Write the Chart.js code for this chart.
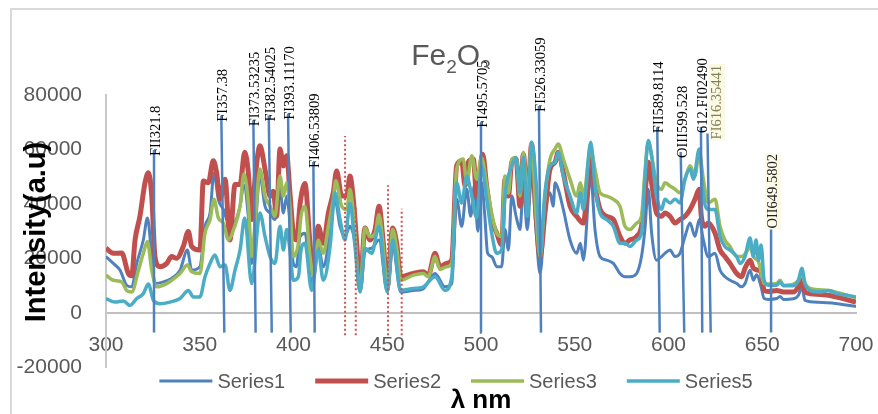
<!DOCTYPE html>
<html>
<head>
<meta charset="utf-8">
<script src="https://cdn.jsdelivr.net/npm/chart.js@4.4.1/dist/chart.umd.min.js"></script>
<style>
  html, body { margin: 0; padding: 0; background: #fff; overflow: hidden; }
  #frame { position: absolute; left: 10px; top: 8px; width: 900px; height: 430px; border: 2px solid #d9d9d9; }
  #wrap { position: absolute; left: 0; top: 0; width: 878px; height: 414px; }
</style>
</head>
<body>
<div id="frame"></div>
<div id="wrap"><canvas id="chart"></canvas></div>
<script>
// Series1
const wl1 = [300,303.9,307.5,311,313.7,316.4,319.9,322.1,324.4,326.1,330.6,335,339.5,343.4,345.7,350.1,352.8,355.5,357.6,359.9,362.6,365.3,368,371.5,373.5,375.9,377.7,379.5,382.1,384.8,387.5,390.1,392.8,394.6,396.4,398.1,399.9,401.5,403.5,406.1,409.7,413.2,415.9,419.5,422.1,424.8,427.5,430.1,432.8,435.5,438.1,441.7,445.6,450,452.9,457.2,463.9,469,475.5,480.8,484.4,487,489.7,492.4,494.5,496.5,498.3,500.3,502,503.5,505.7,508.4,511,512.8,514.6,516.4,518.7,520.8,522.6,524.7,527,529.3,531.5,534.1,536.8,538.5,539.5,541.2,543.9,547.5,551,553,554.6,558.5,560.8,563.5,567,570.6,574.1,576.8,579.4,583,585.6,587.4,589.2,591,593.6,596.3,598.1,600.8,603.5,606.1,608.8,611.5,614.1,616.4,618.6,621.2,624.8,627.5,630.1,632.8,636.4,639,640.8,643.5,645.3,647,649.4,651,653.3,657.7,659.5,661.3,666.6,669.3,671.1,672.8,680,690,700];
const s1 = [20700,18200,15700,10200,9600,18200,26800,34900,20700,10800,11400,12700,15700,23100,15700,17000,31800,36700,51500,41700,38000,33000,33100,39200,47000,35500,18200,30000,50300,39200,36700,34300,45400,36700,42900,33000,18200,17000,28000,29300,10800,24400,17000,29300,41700,31800,28100,31800,25600,8000,22500,23800,26800,8000,24400,7700,8300,8800,14500,9600,10800,41700,31800,45400,35500,47000,30000,48000,36000,22000,20700,17000,17000,30600,23100,42900,35500,30600,46600,30600,51500,30600,14500,35500,44100,39200,47800,45400,38000,26800,21900,25600,19400,50300,30600,20700,19400,18200,14500,13300,13300,14500,20700,30600,45400,29300,19400,20700,21900,23100,20700,21900,28100,33000,28100,34300,26800,20700,21900,15700,13300,12000,10800,9600,10800,15700,12000,14000,9600,5300,5000,5300,6100,5000,5200,6500,9600,4600,3900,3400,2400];

// Series2
const wl2 = [300,303.9,308.4,311.9,313.7,315.5,318.1,320.8,322.6,324.4,326.1,328.8,332.4,335,337.7,341.2,343.9,345.7,350.1,351.9,354.6,357.2,359,360.8,363.5,366.1,368.8,371.5,374,375.9,377.7,379.5,382.1,384.8,387.5,389.2,391,392.8,394.6,396.4,398.1,399.9,401.7,403.5,406.1,408.8,410.6,413.2,415.9,418.6,421.2,423,425.7,428.4,430.1,431.9,433.7,435.5,438.1,440.8,443.5,445.6,447.9,450,452.9,455,457.2,463.9,469.2,471.9,475.5,478.1,481.7,484.4,487,489.7,491.5,493.2,495.9,497.7,500.9,503,505.7,508.4,511,512.8,514.6,516.4,518.7,520.8,522.6,524.7,527,529.3,531.5,534.1,536.8,539.5,541.2,543.9,547.5,551,554.6,556.4,558.5,560.8,563.5,567,570.6,574.1,576.8,579.4,583,585.6,587.4,589.2,591,593.6,596.3,598.1,600.8,603.5,606.1,608.8,611.5,614.1,616.4,617.5,619.5,621.2,624.8,627.5,630.1,632.8,636.4,639,640.8,643.5,645.3,648,649.4,651,653.3,657.7,661.3,666.6,669.3,671.1,672.8,675.5,685.3,695.1,700];
const s2 = [23800,21900,22000,14500,13700,26800,35500,47800,51500,42900,20700,17000,18200,20700,20100,24400,29900,24400,23100,48400,47800,55900,51500,41700,49100,26800,47200,47200,59000,51500,34300,49100,61400,52800,42900,44700,35500,60200,54000,57700,44100,29300,26800,40000,47500,25600,14500,31800,25600,36700,44100,52100,42900,42900,50300,41700,25600,9600,31200,26800,30600,39200,25600,9600,31200,25600,13300,14500,15100,13900,21900,17000,18200,19400,54000,55900,46600,55300,56500,42900,58300,46600,34300,29300,25000,49100,42900,55300,56500,39200,58300,39200,62000,36700,20700,36700,52800,55300,59000,51500,39200,35500,33000,42900,57700,46600,38000,35500,34300,28100,25600,26800,28100,31800,42900,55300,47800,36700,35500,36700,35500,33000,34300,35500,38000,41700,45400,35500,31800,33000,29300,23100,20700,18200,14500,13300,16400,19400,16400,15700,15000,8300,7900,8300,7700,7700,9600,12000,7700,7100,6500,4900,4000];

// Series3
const wl3 = [300,303.9,308.4,311,313.7,317.3,319.9,322.1,324.4,327,332.4,335,339.5,343.4,345.7,350.1,352.8,355.5,357.6,359.9,362.6,365.3,368,371.5,373.5,375.9,377.7,379.5,382.1,384.8,387.5,390.1,392.8,394.6,396.4,398.1,399.9,402.6,404,406.1,408.8,410.6,413.2,415.9,418.6,421.2,422.5,425.7,428.4,430.1,431.9,435.5,438.1,440.8,443.5,445.6,447.9,450,452.9,455,457.2,463.9,469.2,471.9,475.5,478.1,481.7,484.4,487,490.5,492.4,495.1,497.7,500.3,503,505.7,508.4,511,512.8,514.6,516.4,518.7,520.8,522.6,524.7,527,529.3,531.5,534.1,536.8,539.5,541.2,543.9,547.5,551,553,554.6,558.5,560.8,563.5,567,570.6,574.1,576.8,579.4,583,585.6,587.4,589.2,591,593.6,596.3,598.1,600.8,603.5,606.1,608.8,611.5,614.1,616.4,618.6,621.2,624.8,627.5,630.1,632.8,636.4,639,641.7,643.5,645.3,648,651,653.3,657.7,659.5,661.3,666.6,669.3,671.1,672.8,675.5,685.3,695.1,700];
const s3 = [13900,12000,11400,8300,7700,15700,21900,26200,15700,9600,10800,12000,14500,17600,15100,14500,29300,34300,41700,34900,33000,26800,30600,39200,51000,40400,20700,33000,52800,42900,39200,35500,50300,42900,47800,39200,20700,25600,35500,39200,20700,13900,26800,21900,31800,41700,48500,39200,38000,45400,36800,8000,31200,28000,29000,36100,24000,8000,30600,24000,12000,13900,14500,13300,20700,16000,17000,18200,52800,56500,47800,57700,49100,57100,47000,36700,29300,28100,50300,44000,56500,57100,42900,59000,42000,62700,36700,20700,42900,56500,60200,62000,56500,49100,42900,47800,42900,60200,52800,44100,42900,41700,39200,31800,30600,33000,35500,51500,62700,57700,47800,45400,47800,46600,45400,44100,49100,54000,50300,59000,49100,40400,41700,31800,26800,24400,20700,20700,22500,24400,20700,18800,10800,10600,10800,12000,10200,10600,12000,14500,10800,9000,8300,6500,5600];

// Series5
const wl5 = [300,304.8,309.3,312.8,316.4,319.9,322.6,325.3,328.8,334.1,339.5,343.9,346.6,350.1,352.8,355.5,358.1,360.8,363.5,366.1,368.8,371.5,374,377.7,382.1,384.8,387.5,390.1,392.8,394.6,396.4,398.1,399.9,402.6,404,406.1,409.7,413.2,415.9,419.5,422.1,424.8,427.5,430.1,432.8,435.5,438.1,441.7,445.6,450,452.9,457.2,463.9,469,475.5,480.8,484.4,487,489.7,492.4,494.5,497.7,500.3,503,505.7,508.4,511,512.8,516.4,518.7,520.8,522.6,524.7,527,529.3,531.5,534.1,536.8,539.5,541.2,543.9,547.5,551,553,554.6,558.5,560.8,563.5,567,570.6,574.1,576.8,579.4,583,585.6,587.4,589.2,591,593.6,596.3,598.1,600.8,603.5,606.1,608.8,611.5,613.3,616.4,618.6,621.2,624.8,627.5,630.1,632.8,636.4,638.1,640.8,643.5,645.3,646.7,648,649.4,651,653.3,657.7,659.5,661.3,666.6,669.3,671.1,672.8,675.5,680.8,685.3,689.7,695.1,700];
const s5 = [5300,4000,4400,2800,5300,7100,10600,4600,3400,4000,5300,8300,5900,5900,13300,18200,21300,17000,17600,8300,15700,23100,34900,10800,36700,28100,20700,18200,31800,23100,30600,23100,12000,13300,23100,25600,8300,23100,12000,24400,44100,34300,26800,40400,24400,7700,23800,21900,31800,7700,26800,8300,9000,9500,13300,8300,13300,47800,40400,50300,45000,35000,54000,42000,29300,21900,23100,42900,54000,57100,44100,57100,35500,62700,49100,21900,44100,54000,55300,59000,50300,42900,36700,44100,38000,62700,46600,36700,34300,31800,25600,25600,24400,26800,29300,49100,63300,57700,42900,38000,41700,40400,41700,40400,49100,52800,49100,60200,42900,38000,38000,28100,24400,23100,20700,18200,20700,27500,20700,26800,19400,25000,12000,10200,10200,11400,10000,10000,12000,16400,10800,8300,7700,8300,7100,6500,5900];

// line markers with labels (top end, bottom end, top value)
const markTopWl = [325.6,361.5,378.6,386.8,397.1,410.6,500,530.9,594,606.5,617.3,620.8,654.7];
const markBaseWl = [325.6,363.1,379.8,388.4,398.5,411.3,500.4,532,595.3,608.4,618,622.5,654.7];
const markTop = [59800,72400,70700,72500,73100,55400,70200,76000,68200,59100,68300,65900,33200];
const markText = ["FII321.8","FI357.38","FI373.53235","FI382.54025","FI393.11170","FI406.53809","FI495.5705","FI526.33059","FII589.8114","OIII599.528","612.FI02490","FI616.35441","OII649.5802"];
const markBase = -7200;

// red dotted guides
const guideWl = [427.5,433.2,450.4,457.7];
const guideTop = [65000,38700,46900,38300];
const guideBase = -8200;

const xTicks = [300,350,400,450,500,550,600,650,700];
const yTicks = [-20000,0,20000,40000,60000,80000];

const labelStyle = {
    "FI616.35441": { color: "#80805a", bg: "#fbf9e3" },
    "OII649.5802": { color: "#222", bg: "#fcfae6" }
};

function pts(xs, ys) {
    return xs.map((x, i) => ({ x: x, y: ys[i] }));
}

const markPts = [];
markTopWl.forEach((w, i) => {
    markPts.push({ x: markBaseWl[i], y: markBase });
    markPts.push({ x: w, y: markTop[i] });
    markPts.push({ x: w, y: null });
});
const guidePts = [];
guideWl.forEach((w, i) => {
    guidePts.push({ x: w, y: guideBase });
    guidePts.push({ x: w, y: guideTop[i] });
    guidePts.push({ x: w, y: null });
});

Chart.defaults.font.family = '"Liberation Sans", Arial, sans-serif';
Chart.defaults.color = "#595959";

function serie(label, data, color, width, order) {
    return {
        label: label,
        data: data,
        showLine: true,
        borderColor: color,
        backgroundColor: color,
        borderWidth: width,
        pointRadius: 0,
        cubicInterpolationMode: "monotone",
        order: order
    };
}

// titulos, leyenda y etiquetas de las lineas
const decor = {
    id: "decor",
    afterDatasetsDraw(chart) {
        const { ctx, scales: { x, y } } = chart;
        ctx.save();
        ctx.font = '14.5px "Liberation Serif", serif';
        ctx.textBaseline = "middle";
        ctx.textAlign = "left";
        let prev = -Infinity;
        markText.forEach((t, i) => {
            let px = x.getPixelForValue(markTopWl[i]) + 2;
            if (px - prev < 14) px = prev + 14;
            prev = px;
            const py = y.getPixelForValue(markTop[i]) + 6;
            const st = labelStyle[t] || {};
            ctx.save();
            ctx.translate(px, py);
            ctx.rotate(-Math.PI / 2);
            const w = ctx.measureText(t).width;
            if (st.bg) {
                ctx.fillStyle = st.bg;
                ctx.fillRect(-1, -8, w + 2, 16);
            }
            ctx.fillStyle = st.color || "#000";
            ctx.fillText(t, 0, 0);
            ctx.restore();
        });
        ctx.restore();
    },
    afterDraw(chart) {
        const ctx = chart.ctx;
        ctx.save();

        // Fe2O3
        ctx.fillStyle = "#595959";
        ctx.textBaseline = "alphabetic";
        ctx.textAlign = "left";
        const big = '30px "Liberation Sans", Arial, sans-serif';
        const small = '19px "Liberation Sans", Arial, sans-serif';
        const parts = [["Fe", big, 65], ["2", small, 73], ["O", big, 65], ["3", small, 73]];
        let total = 0;
        parts.forEach(p => { ctx.font = p[1]; total += ctx.measureText(p[0]).width; });
        let tx = 451 - total / 2;
        parts.forEach((p, i) => {
            ctx.font = p[1];
            if (i === 3) {
                ctx.save();
                ctx.beginPath();
                ctx.rect(tx - 2, 0, 20, 69);
                ctx.clip();
                ctx.fillText(p[0], tx, p[2]);
                ctx.restore();
            } else {
                ctx.fillText(p[0], tx, p[2]);
            }
            tx += ctx.measureText(p[0]).width;
        });

        // Intensity(a.u)
        ctx.fillStyle = "#000";
        ctx.font = 'bold 29px "Liberation Sans", Arial, sans-serif';
        ctx.save();
        ctx.translate(45, 232);
        ctx.rotate(-Math.PI / 2);
        ctx.textAlign = "center";
        ctx.fillText("Intensity(a.u)", 0, 0);
        ctx.restore();

        // leyenda
        const items = chart.data.datasets.filter(d => d.inLegend);
        ctx.font = '20px "Liberation Sans", Arial, sans-serif';
        ctx.textBaseline = "middle";
        ctx.textAlign = "left";
        const widths = items.map(d => ctx.measureText(d.label).width);
        let lw = 0;
        widths.forEach(w => { lw += 58 + w; });
        lw += 30 * (items.length - 1);
        let lx = 456 - lw / 2;
        items.forEach((d, i) => {
            ctx.strokeStyle = d.borderColor;
            ctx.lineWidth = d.borderWidth;
            ctx.beginPath();
            ctx.moveTo(lx, 381);
            ctx.lineTo(lx + 53, 381);
            ctx.stroke();
            ctx.fillStyle = "#595959";
            ctx.fillText(d.label, lx + 58, 382);
            lx += 58 + widths[i] + 30;
        });

        // λ nm
        ctx.fillStyle = "#000";
        ctx.font = 'bold 26px "Liberation Sans", Arial, sans-serif';
        ctx.textAlign = "center";
        ctx.textBaseline = "alphabetic";
        ctx.fillText("λ nm", 481, 408);

        ctx.restore();
    }
};

const ds1 = serie("Series1", pts(wl1, s1), "#4F81BD", 3, 4);
const ds2 = serie("Series2", pts(wl2, s2), "#C0504D", 5, 3);
const ds3 = serie("Series3", pts(wl3, s3), "#9BBB59", 3.5, 2);
const ds5 = serie("Series5", pts(wl5, s5), "#4BACC6", 3.5, 1);
[ds1, ds2, ds3, ds5].forEach(d => (d.inLegend = true));

new Chart(document.getElementById("chart"), {
    type: "scatter",
    data: {
        datasets: [
            ds1, ds2, ds3, ds5,
            {
                label: "lines",
                data: markPts,
                showLine: true,
                spanGaps: false,
                borderColor: "#4F81BD",
                borderWidth: 2.5,
                pointRadius: 0,
                tension: 0,
                order: 0
            },
            {
                label: "guides",
                data: guidePts,
                showLine: true,
                spanGaps: false,
                borderColor: "#D0504D",
                borderWidth: 2,
                borderDash: [2, 2.5],
                pointRadius: 0,
                tension: 0,
                order: 0
            }
        ]
    },
    options: {
        responsive: true,
        maintainAspectRatio: false,
        animation: false,
        layout: { padding: { top: 95, right: 22, bottom: 46.5, left: 0 } },
        plugins: {
            legend: { display: false },
            title: { display: false },
            tooltip: { enabled: false }
        },
        scales: {
            x: {
                type: "linear",
                position: { y: 0 },
                min: 300,
                max: 700,
                afterBuildTicks: s => { s.ticks = xTicks.map(v => ({ value: v })); },
                afterFit: s => { s.paddingLeft = 0; s.paddingRight = 0; },
                grid: { display: false, drawTicks: false },
                border: { display: true, color: "#bfbfbf", width: 2 },
                ticks: { padding: 20, font: { size: 21 }, color: "#595959", maxRotation: 0 }
            },
            y: {
                min: -20000,
                max: 80000,
                afterBuildTicks: s => { s.ticks = yTicks.map(v => ({ value: v })); },
                afterFit: s => { s.width = 106; },
                grid: { display: false, drawTicks: false },
                border: { display: true, color: "#c8c8c8", width: 2 },
                ticks: {
                    padding: 24,
                    font: { size: 21 },
                    color: "#595959",
                    callback: v => String(v)
                }
            }
        }
    },
    plugins: [decor]
});
</script>
</body>
</html>
